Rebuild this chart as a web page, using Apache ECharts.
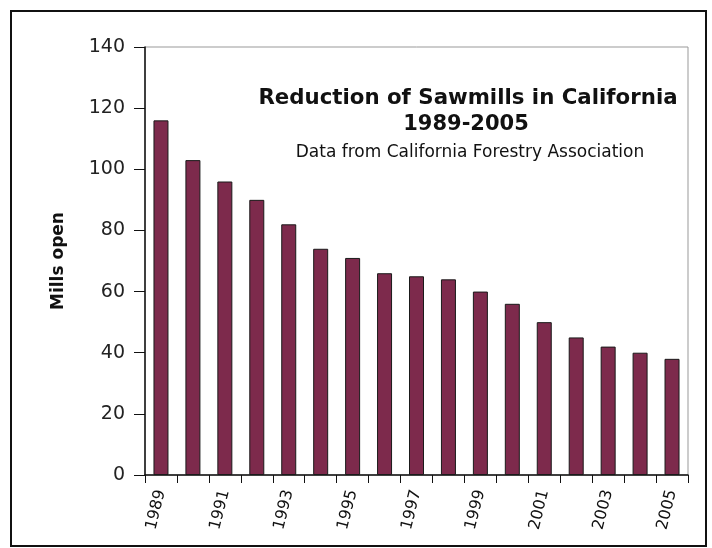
<!DOCTYPE html>
<html>
<head>
<meta charset="utf-8">
<script src="https://cdn.jsdelivr.net/npm/echarts@6/dist/echarts.min.js"></script>
<style>html,body{margin:0;padding:0;background:#fff}#c{width:712px;height:548px}</style>
</head>
<body>
<div id="c"></div>
<script>
var years = ['1989','1990','1991','1992','1993','1994','1995','1996','1997','1998','1999','2000','2001','2002','2003','2004','2005'];
var millsOpen = [116,103,96,90,82,74,71,66,65,64,60,56,50,45,42,40,38];
var titleText = 'Reduction of Sawmills in California';
var titleYears = '1989-2005';
var sourceText = 'Data from California Forestry Association';
var yAxisName = 'Mills open';

var chart = echarts.init(document.getElementById('c'), null, {renderer:'canvas'});
chart.setOption({
  animation:false,
  backgroundColor:'#fff',
  title:[
    {text:titleText, left:463, top:83, textAlign:'center',
     textStyle:{fontFamily:'DejaVu Sans', fontWeight:'bold', fontSize:21.3, color:'#111'}},
    {text:titleYears, left:461, top:109, textAlign:'center',
     textStyle:{fontFamily:'DejaVu Sans', fontWeight:'bold', fontSize:21, color:'#111'}},
    {text:sourceText, left:465, top:139, textAlign:'center',
     textStyle:{fontFamily:'DejaVu Sans', fontWeight:'normal', fontSize:17, color:'#111'}}
  ],
  graphic:[
    {type:'rect', shape:{x:11, y:11, width:695, height:535}, style:{fill:null, stroke:'#111', lineWidth:2}, silent:true, z:-1}
  ],
  grid:{left:145, right:24, top:47, bottom:73, containLabel:false, show:true, borderColor:'#999', borderWidth:1, backgroundColor:'transparent'},
  xAxis:{
    type:'category', data:years,
    axisLine:{lineStyle:{color:'#111', width:1.5}},
    axisTick:{show:true, interval:0, length:8, lineStyle:{color:'#111'}},
    axisLabel:{interval:1, rotate:76, fontFamily:'DejaVu Sans', fontSize:16, color:'#111', margin:15},
    splitLine:{show:false}
  },
  yAxis:{
    type:'value', min:0, max:140, interval:20,
    name:yAxisName, nameLocation:'middle', nameGap:78, nameRotate:90,
    nameTextStyle:{fontFamily:'DejaVu Sans', fontWeight:'bold', fontSize:17, color:'#111'},
    axisLine:{show:true, lineStyle:{color:'#111', width:1.5}},
    axisTick:{show:true, length:11, lineStyle:{color:'#111'}},
    axisLabel:{fontFamily:'DejaVu Sans', fontSize:19, color:'#222', margin:20},
    splitLine:{show:false}
  },
  series:[{
    type:'bar', data:millsOpen, barWidth:15,
    itemStyle:{color:'#7d2a4c', borderColor:'#1a1a1a', borderWidth:1}
  }]
});
</script>
</body>
</html>
